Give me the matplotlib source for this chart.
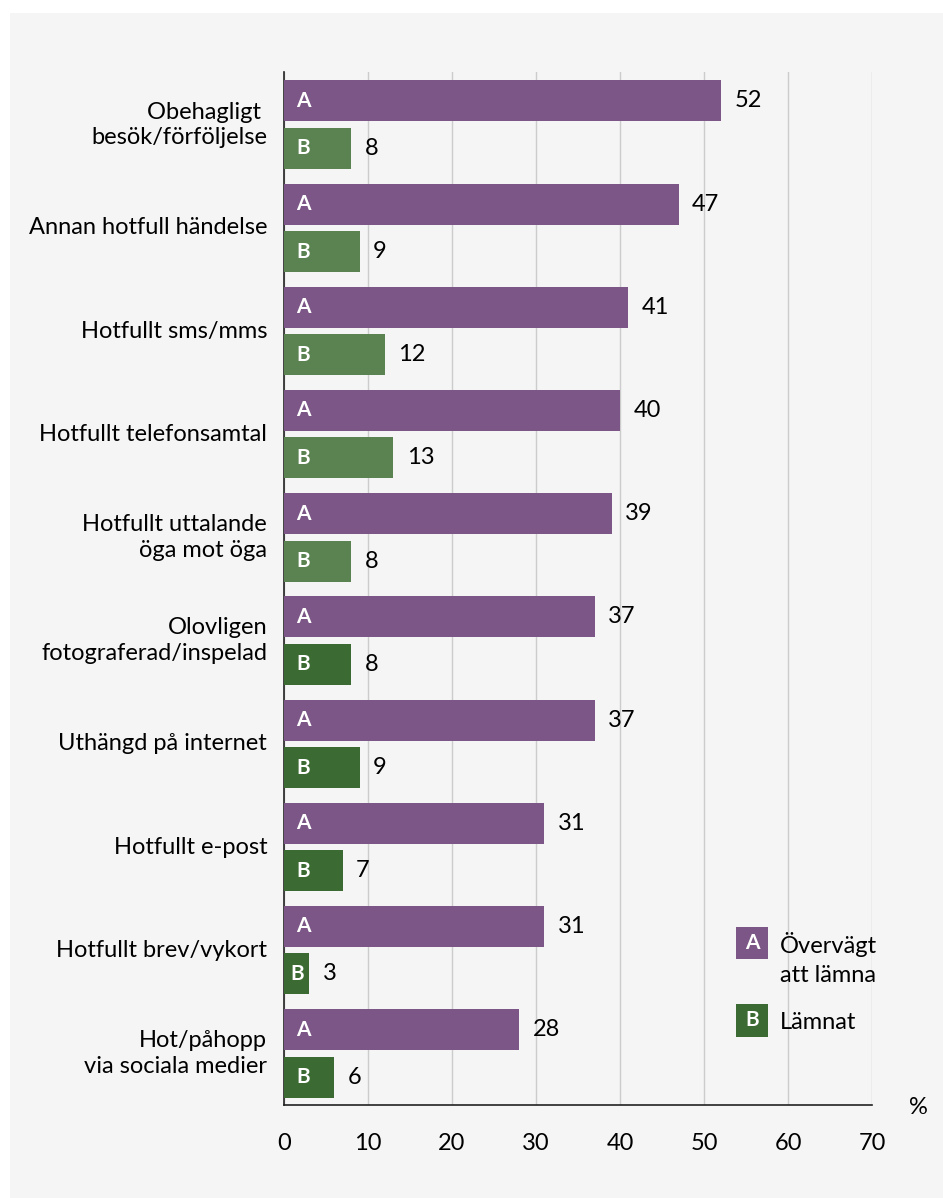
import matplotlib
matplotlib.use('Agg')
import matplotlib.pyplot as plt
from matplotlib.patches import Rectangle
import numpy as np

CATEGORIES = [
    "Obehagligt \nbesök/förföljelse",
    "Annan hotfull händelse",
    "Hotfullt sms/mms",
    "Hotfullt telefonsamtal",
    "Hotfullt uttalande\nöga mot öga",
    "Olovligen\nfotograferad/inspelad",
    "Uthängd på internet",
    "Hotfullt e-post",
    "Hotfullt brev/vykort",
    "Hot/påhopp\nvia sociala medier",
]
overvagt = [52, 47, 41, 40, 39, 37, 37, 31, 31, 28]
lamnat = [8, 9, 12, 13, 8, 8, 9, 7, 3, 6]
x_ticks = [0, 10, 20, 30, 40, 50, 60, 70]

PURPLE = "#7b5686"
GREEN_LIGHT = "#5b8251"
GREEN_DARK = "#3b6b32"
BG = "#f5f5f5"
FONT = "Lato"
FS = 17

plt.rcParams['font.family'] = [FONT, 'DejaVu Sans']

fig = plt.figure(figsize=(9.43, 11.98), dpi=100)
fig.patches.append(Rectangle((10 / 943, 0.0), 1 - 10 / 943, 1 - 13 / 1198,
                             transform=fig.transFigure, facecolor=BG,
                             edgecolor='none', zorder=-10))

ax = fig.add_axes([284 / 943, 1 - 1105 / 1198, (872 - 284) / 943, (1105 - 72) / 1198])
ax.set_facecolor('none')

y = np.arange(len(CATEGORIES))
h = 0.397
off = 0.23
green_cols = [GREEN_LIGHT] * 5 + [GREEN_DARK] * 5

ax.barh(y - off, overvagt, height=h, color=PURPLE, zorder=3)
ax.barh(y + off, lamnat, height=h, color=green_cols, zorder=3)

for i in range(len(CATEGORIES)):
    ax.text(1.5, y[i] - off, "A", color='white', fontweight='bold', fontsize=15,
            va='center', ha='left', zorder=4)
    ax.text(1.5 if lamnat[i] > 3 else 0.8, y[i] + off, "B", color='white',
            fontweight='bold', fontsize=15, va='center', ha='left', zorder=4)
    ax.text(overvagt[i] + 1.6, y[i] - off, str(overvagt[i]), fontsize=FS,
            va='center', ha='left')
    ax.text(lamnat[i] + 1.6, y[i] + off, str(lamnat[i]), fontsize=FS,
            va='center', ha='left')
    ax.text(-2.0, y[i], CATEGORIES[i], fontsize=FS, va='center', ha='right',
            linespacing=1.25)

ax.set_ylim(len(CATEGORIES) - 0.5, -0.51)
ax.set_xlim(0, 70)
ax.set_xticks(x_ticks)
ax.set_xticklabels([str(t) for t in x_ticks], fontsize=FS)
ax.tick_params(axis='x', length=0, pad=20)
ax.set_yticks([])
ax.grid(axis='x', color='#cccccc', linewidth=1, zorder=0)
for s in ['top', 'right']:
    ax.spines[s].set_visible(False)
ax.spines['left'].set_color('#222222')
ax.spines['bottom'].set_color('#222222')
ax.spines['left'].set_linewidth(1.2)
ax.spines['bottom'].set_linewidth(1.2)

ax.text(918 / 943, 1 - 1108 / 1198, "%", transform=fig.transFigure, fontsize=FS,
        ha='center', va='center')

# legend: box top/bottom in pixels, text lines with baselines in pixels
legend_items = [
    (927, 959, PURPLE, "A", [("Övervägt", 953), ("att lämna", 982)]),
    (1004, 1037, GREEN_DARK, "B", [("Lämnat", 1029)]),
]
for top, bot, col, letter, lines in legend_items:
    fig.patches.append(Rectangle((736 / 943, 1 - bot / 1198), 32 / 943, (bot - top) / 1198,
                                 transform=fig.transFigure, facecolor=col,
                                 edgecolor='none'))
    fig.text(752 / 943, 1 - (top + bot) / 2 / 1198, letter, color='white',
             fontweight='bold', fontsize=15, ha='center', va='center')
    for txt, base in lines:
        fig.text(780 / 943, 1 - base / 1198, txt, fontsize=FS, ha='left',
                 va='baseline')

fig.savefig("out.png", dpi=100, facecolor='white')
